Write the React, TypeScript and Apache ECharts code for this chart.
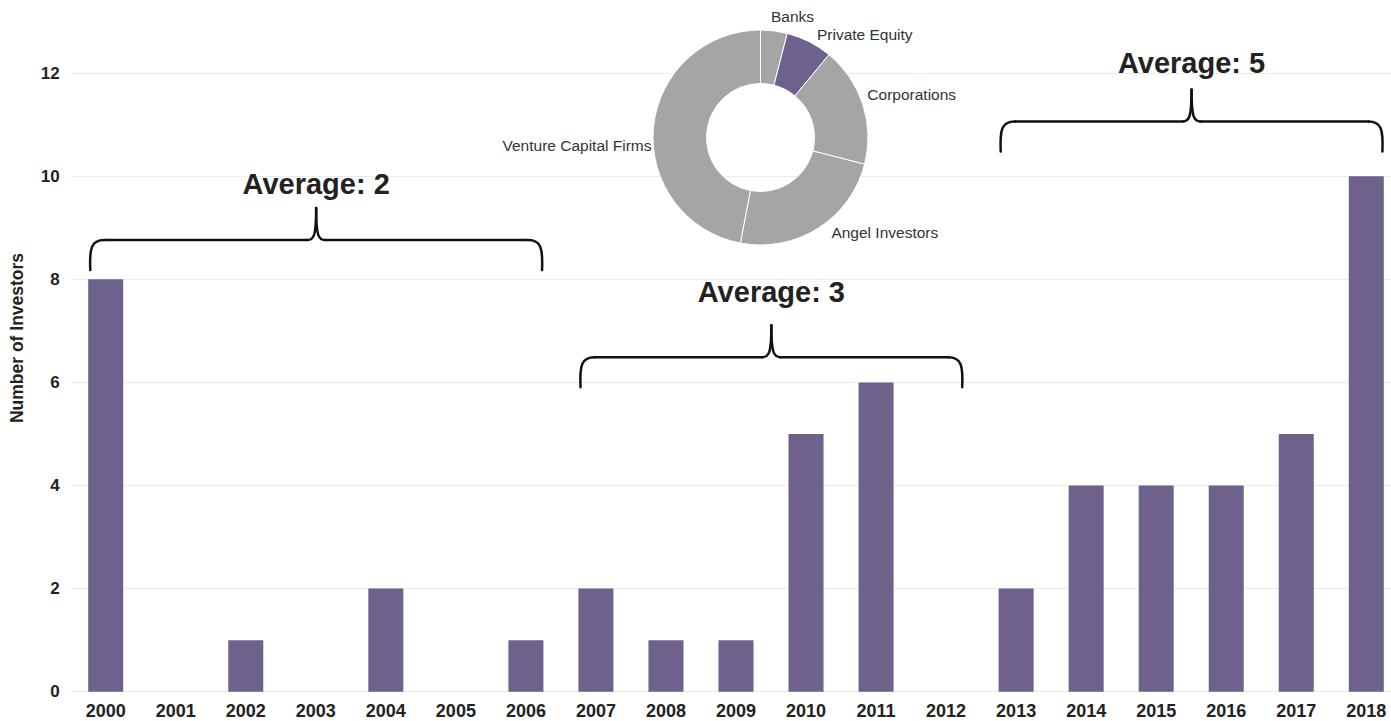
import React, { useEffect, useRef } from "react";
import * as echarts from "echarts";

const years = ["2000", "2001", "2002", "2003", "2004", "2005", "2006", "2007", "2008", "2009", "2010", "2011", "2012", "2013", "2014", "2015", "2016", "2017", "2018"];
const investors = [8, 0, 1, 0, 2, 0, 1, 2, 1, 1, 5, 6, 0, 2, 4, 4, 4, 5, 10];

const investorTypes = ["Banks", "Private Equity", "Corporations", "Angel Investors", "Venture Capital Firms"];
const investorTypeShares = [4, 7, 18, 24, 47];
const highlightedType = "Private Equity";

const yMin = 0;
const yMax = 12;
const yInterval = 2;

// periods annotated with braces (indices into years)
const periodStart = [0, 7, 13];
const periodEnd = [6, 12, 18];
// vertical placement (in axis values) of each brace and its label
const braceLevels = [8.76, 6.49, 11.06];
const averageLabelLevels = [9.85, 7.75, 12.2];

const PURPLE = "#6e618c";
const GREY = "#a5a5a5";
const FONT = "'Liberation Sans', Arial, Helvetica, sans-serif";

// small nudges of the donut labels (pixels)
const labelNudgeX = [-5.5, -1.5, -5, 1, 6.5];
const labelNudgeY = [-3, 0, -3.5, -1.5, 9.5];

export default function App() {
  const ref = useRef<HTMLDivElement>(null);

  useEffect(() => {
    if (!ref.current) return;
    const chart = echarts.init(ref.current, undefined, { renderer: "svg" });
    chart.setOption({
      animation: false,
      grid: { left: 70.7, right: 8.7, top: 73.1, bottom: 29.3 },
      xAxis: {
        type: "category",
        data: years,
        axisLine: { show: false },
        axisTick: { show: false },
        axisLabel: {
          interval: 0,
          margin: 10,
          color: "#222",
          fontSize: 18,
          fontWeight: "bold",
          fontFamily: FONT,
        },
      },
      yAxis: {
        type: "value",
        min: yMin,
        max: yMax,
        interval: yInterval,
        axisLine: { show: false },
        axisTick: { show: false },
        splitLine: { lineStyle: { color: "#ebebeb", width: 1 } },
        axisLabel: {
          margin: 11,
          color: "#222",
          fontSize: 17,
          fontWeight: "bold",
          fontFamily: FONT,
        },
      },
      series: [
        {
          type: "bar",
          data: investors,
          barWidth: "50%",
          itemStyle: { color: PURPLE },
        },
        {
          type: "pie",
          center: [760.5, 137.5],
          radius: [54, 107.5],
          startAngle: 90,
          clockwise: true,
          avoidLabelOverlap: false,
          z: 5,
          itemStyle: { borderColor: "#fff", borderWidth: 1 },
          label: {
            show: true,
            position: "outside",
            color: "#333",
            fontSize: 15.5,
            fontFamily: FONT,
          },
          labelLine: { show: false, length: 8, length2: 2 },
          labelLayout: (params: any) => ({
            hideOverlap: false,
            dx: labelNudgeX[params.dataIndex] || 0,
            dy: labelNudgeY[params.dataIndex] || 0,
          }),
          emphasis: { disabled: true },
          data: investorTypes.map((name, i) => ({
            name,
            value: investorTypeShares[i],
            itemStyle: { color: name === highlightedType ? PURPLE : GREY },
          })),
        },
      ],
    });

    const xPx = (i: number) => chart.convertToPixel({ xAxisIndex: 0 }, years[i]) as number;
    const yPx = (v: number) => chart.convertToPixel({ yAxisIndex: 0 }, v) as number;
    const step = xPx(1) - xPx(0);

    const elements: any[] = [];
    const lineStyle = { stroke: "#111", lineWidth: 2.5, fill: null, lineCap: "round" };

    periodStart.forEach((s, k) => {
      const e = periodEnd[k];
      const slice = investors.slice(s, e + 1);
      const avg = Math.round(slice.reduce((a, b) => a + b, 0) / slice.length);
      const xL = xPx(s) - 0.22 * step;
      const xR = xPx(e) + 0.23 * step;
      const xm = (xL + xR) / 2;
      const yh = yPx(braceLevels[k]);
      const yb = yh + 30;
      const yp = yh - 32;
      const children = [
        { type: "bezierCurve", shape: { x1: xL, y1: yb, cpx1: xL - 1, cpy1: yh + 8, cpx2: xL + 1, cpy2: yh, x2: xL + 14, y2: yh }, style: lineStyle },
        { type: "bezierCurve", shape: { x1: xR, y1: yb, cpx1: xR + 1, cpy1: yh + 8, cpx2: xR - 1, cpy2: yh, x2: xR - 14, y2: yh }, style: lineStyle },
        { type: "line", shape: { x1: xL + 14, y1: yh, x2: xm - 9, y2: yh }, style: lineStyle },
        { type: "line", shape: { x1: xm + 9, y1: yh, x2: xR - 14, y2: yh }, style: lineStyle },
        { type: "bezierCurve", shape: { x1: xm - 9, y1: yh, cpx1: xm - 2, cpy1: yh, cpx2: xm, cpy2: yh - 5, x2: xm, y2: yp }, style: lineStyle },
        { type: "bezierCurve", shape: { x1: xm + 9, y1: yh, cpx1: xm + 2, cpy1: yh, cpx2: xm, cpy2: yh - 5, x2: xm, y2: yp }, style: lineStyle },
        {
          type: "text",
          x: xm,
          y: yPx(averageLabelLevels[k]),
          style: {
            text: `Average: ${avg}`,
            fill: "#222",
            fontSize: 29,
            fontWeight: "bold",
            fontFamily: FONT,
            align: "center",
            verticalAlign: "middle",
            textAlign: "center",
            textVerticalAlign: "middle",
          },
        },
      ];
      elements.push({ type: "group", children });
    });

    elements.push({
      type: "text",
      x: 17,
      y: 338,
      rotation: Math.PI / 2,
      style: {
        text: "Number of Investors",
        fill: "#222",
        fontSize: 17.5,
        fontWeight: "bold",
        fontFamily: FONT,
        align: "center",
        verticalAlign: "middle",
        textAlign: "center",
        textVerticalAlign: "middle",
      },
    });

    chart.setOption({ graphic: { elements } });

    return () => chart.dispose();
  }, []);

  return (
    <div style={{ position: "fixed", left: 0, top: 0, width: 1391, height: 721, overflow: "hidden", background: "#fff" }}>
      <div ref={ref} style={{ width: 1410, height: 721 }} />
    </div>
  );
}
